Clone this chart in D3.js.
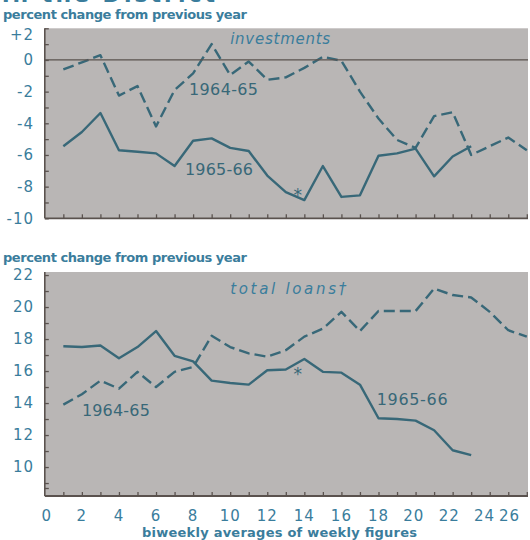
<!DOCTYPE html>
<html>
<head>
<meta charset="utf-8">
<script src="https://cdn.jsdelivr.net/npm/d3@7"></script>
<style>
html,body{margin:0;padding:0;background:#fff;}
svg{display:block;}
text{font-family:"DejaVu Sans",sans-serif;}
</style>
</head>
<body>
<svg id="chart" width="530" height="540"></svg>
<script>
// ---------- data ----------
const weeks = d3.range(1, 27);                 // biweekly periods 1..26
const xTickLabels = [0,2,4,6,8,10,12,14,16,18,20,22,24,26];

// investments, percent change from previous year
const invest6465 = [-0.6,-0.15,0.3,-2.25,-1.65,-4.2,-1.9,-0.85,1.0,-0.95,-0.1,-1.25,-1.1,-0.5,0.2,-0.05,-2.0,-3.7,-5.05,-5.55,-3.55,-3.3,-6.0,-5.45,-4.9,-5.7];
const invest6566 = [-5.45,-4.55,-3.35,-5.7,-5.8,-5.9,-6.7,-5.1,-4.95,-5.55,-5.75,-7.3,-8.35,-8.85,-6.7,-8.65,-8.55,-6.05,-5.9,-5.6,-7.35,-6.1,-5.45];
const investTicks = [2,0,-2,-4,-6,-8,-10];
const investTickLabels = ["+2","0","-2","-4","-6","-8","-10"];

// total loans, percent change from previous year
const loans6465 = [13.9,14.55,15.4,14.9,15.95,15.0,15.95,16.25,18.2,17.5,17.1,16.9,17.3,18.15,18.65,19.7,18.5,19.75,19.75,19.75,21.15,20.75,20.6,19.7,18.55,18.15];
const loans6566 = [17.55,17.5,17.6,16.8,17.5,18.5,16.95,16.6,15.4,15.25,15.15,16.05,16.1,16.75,15.95,15.9,15.15,13.05,13.0,12.9,12.3,11.05,10.75];
const loansTicks = [22,20,18,16,14,12,10];

// ---------- styles ----------
const C = {
  bg: "#b9b6b5",
  line: "#386878",
  text: "#3a7d9c",
  axis: "#5a524e"
};

const svg = d3.select("#chart");

// shared x scale
const x = d3.scaleLinear().domain([0, 26]).range([44.8, 526.8]);
const plotRight = 528;

// header (cut-off title, only the bottom of the letters is visible)
svg.append("text").attr("x", 2).attr("y", 2).attr("fill", C.text)
  .attr("font-size", 22).attr("font-weight", "bold").attr("letter-spacing", 3)
  .text("in the District");

function panel(cfg) {
  const y = d3.scaleLinear().domain(cfg.domain).range(cfg.range);
  const g = svg.append("g");
  g.append("rect").attr("x", x(0)).attr("y", cfg.range[1])
    .attr("width", plotRight - x(0)).attr("height", cfg.range[0] - cfg.range[1])
    .attr("fill", C.bg);
  svg.append("text").attr("x", 3).attr("y", cfg.unitY).attr("fill", C.text)
    .attr("font-size", 13).attr("font-weight", "bold")
    .attr("textLength", 244).attr("lengthAdjust", "spacing")
    .text("percent change from previous year");

  const yAxis = d3.axisRight(y).tickValues(cfg.minor).tickSize(4).tickFormat("");
  const ya = g.append("g").attr("transform", `translate(${x(0)},0)`).call(yAxis);
  ya.select(".domain").attr("stroke", C.axis).attr("stroke-width", 1.6)
    .attr("d", `M0,${cfg.range[0]}V${cfg.range[1]}`);
  ya.selectAll(".tick line").attr("stroke", C.axis).attr("stroke-width", 1.3);
  g.selectAll(".ylab").data(cfg.ticks).join("text")
    .attr("x", 34).attr("y", d => y(d) + (d === cfg.domain[1] ? 6 : 0)).attr("dy", "0.36em")
    .attr("text-anchor", "end").attr("fill", C.text)
    .attr("font-size", 15).attr("letter-spacing", 1)
    .text((d, i) => cfg.tickLabels ? cfg.tickLabels[i] : d);

  const xAxis = d3.axisTop(x).tickValues(weeks).tickSize(4).tickFormat("");
  const xa = g.append("g").attr("transform", `translate(0,${cfg.range[0]})`).call(xAxis);
  xa.select(".domain").attr("stroke", C.axis).attr("stroke-width", 1.8)
    .attr("d", `M${x(0)},0H${plotRight}`);
  xa.selectAll(".tick line").attr("stroke", C.axis).attr("stroke-width", 1.3);

  const line = d3.line().x((d, i) => x(i + 1)).y(d => y(d));
  g.append("path").datum(cfg.s6465).attr("d", line).attr("fill", "none")
    .attr("stroke", C.line).attr("stroke-width", 2.4)
    .attr("stroke-dasharray", "11,5").attr("stroke-linejoin", "round");
  g.append("path").datum(cfg.s6566).attr("d", line).attr("fill", "none")
    .attr("stroke", C.line).attr("stroke-width", 2.4).attr("stroke-linejoin", "round");

  cfg.labels.forEach(l => {
    g.append("text").attr("x", x(l.at[0])).attr("y", y(l.at[1]))
      .attr("fill", l.color || C.line).attr("font-size", l.size || 16)
      .attr("font-style", l.italic ? "italic" : null)
      .attr("textLength", l.len).attr("lengthAdjust", "spacing")
      .text(l.text);
  });
  g.append("text").attr("x", x(cfg.star[0])).attr("y", y(cfg.star[1])).attr("dy", "0.55em")
    .attr("text-anchor", "middle").attr("fill", C.line).attr("font-size", 17).text("*");
  return { y, g };
}

const topPanel = panel({
  domain: [-10, 2], range: [218.3, 28.3], unitY: 19,
  minor: d3.range(-10, 3), ticks: investTicks, tickLabels: investTickLabels,
  s6465: invest6465, s6566: invest6566,
  labels: [
    { text: "investments", at: [10.0, 1.0], italic: true, len: 100, color: C.text, size: 15 },
    { text: "1964-65", at: [7.78, -2.2], len: 69 },
    { text: "1965-66", at: [7.56, -7.25], len: 68 }
  ],
  star: [13.65, -8.3]
});
topPanel.g.append("line").attr("x1", x(0)).attr("x2", plotRight)
  .attr("y1", topPanel.y(0)).attr("y2", topPanel.y(0)).attr("stroke", C.axis).attr("stroke-width", 1.3);

const botPanel = panel({
  domain: [8.19, 22.19], range: [496, 272], unitY: 262,
  minor: d3.range(9, 23).concat([8.69]), ticks: loansTicks,
  s6465: loans6465, s6566: loans6566,
  labels: [
    { text: "total  loans\u2020", at: [10.0, 20.8], italic: true, len: 116, color: C.text, size: 15 },
    { text: "1964-65", at: [2.0, 13.2], len: 68 },
    { text: "1965-66", at: [17.9, 13.9], len: 71 }
  ],
  star: [13.65, 16.0]
});

svg.selectAll(".xlab").data(xTickLabels).join("text")
  .attr("x", d => d === 26 ? 520 : x(d) - (d > 18 ? (d - 18) * 0.85 : 0) + (d < 2 ? 2 : 0))
  .attr("y", 521)
  .attr("text-anchor", d => d === 26 ? "end" : "middle")
  .attr("fill", C.text).attr("font-size", 15).attr("letter-spacing", 1)
  .text(d => d);

svg.append("text").attr("x", 142).attr("y", 537).attr("fill", C.text)
  .attr("font-size", 13).attr("font-weight", "bold")
  .attr("textLength", 275).attr("lengthAdjust", "spacing")
  .text("biweekly averages of weekly figures");
</script>
</body>
</html>
